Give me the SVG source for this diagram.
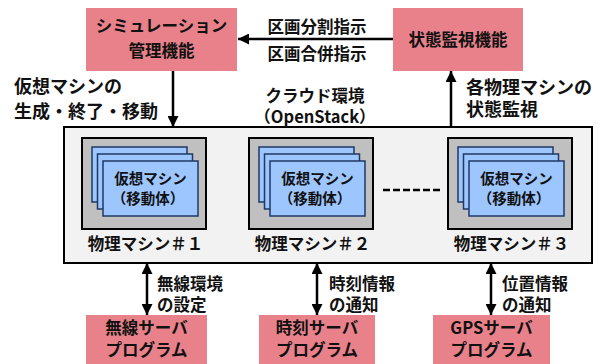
<svg xmlns="http://www.w3.org/2000/svg" width="610" height="364" viewBox="0 0 610 364">
<defs>
<style>
text{font-family:"Noto Sans CJK JP","Noto Sans",sans-serif;font-weight:bold;fill:#111;dominant-baseline:central}
.c{text-anchor:middle}
.t17{font-size:16.5px}
.t18{font-size:18px}
.t15{font-size:14.5px}
.pink{fill:#E8818A;stroke:none}
.pm{fill:#C0C0C0;stroke:#000;stroke-width:2}
.vm{fill:#9DC6FF;stroke:#1F3864;stroke-width:1.5}
.ln{stroke:#000;stroke-width:2.5;fill:none}
</style>
<marker id="ah" viewBox="0 0 10 10" refX="10" refY="5" markerWidth="11" markerHeight="11" markerUnits="userSpaceOnUse" orient="auto-start-reverse">
<path d="M0,0 L10,5 L0,10 Z" fill="#000"/>
</marker>
</defs>
<rect width="610" height="364" fill="#fff"/>

<g id="cloud">
<rect x="64" y="127" width="528" height="136" fill="#F2F2F2" stroke="#000" stroke-width="2"/>
<text class="c t17"><tspan x="315" y="95">クラウド環境</tspan><tspan x="315" y="116">（OpenStack）</tspan></text>
</g>

<g id="sim">
<rect class="pink" x="86" y="8" width="151" height="63"/>
<text class="c t17"><tspan x="161.5" y="25">シミュレーション</tspan><tspan x="161.5" y="50">管理機能</tspan></text>
</g>

<g id="monitor">
<rect class="pink" x="393" y="8" width="130" height="63"/>
<text class="c t17" x="458" y="39">状態監視機能</text>
</g>

<g id="pm1">
<rect class="pm" x="82" y="138" width="124" height="91"/>
<rect class="vm" x="92" y="147" width="95" height="55"/>
<rect class="vm" x="97.5" y="154" width="95" height="55"/>
<rect class="vm" x="103" y="161" width="95" height="55"/>
<text class="c t15"><tspan x="150.5" y="177">仮想マシン</tspan><tspan x="148" y="197">（移動体）</tspan></text>
<text class="c t17" x="145.5" y="243">物理マシン＃１</text>
</g>

<g id="pm2">
<rect class="pm" x="249" y="138" width="124" height="91"/>
<rect class="vm" x="259" y="147" width="95" height="55"/>
<rect class="vm" x="264.5" y="154" width="95" height="55"/>
<rect class="vm" x="270" y="161" width="95" height="55"/>
<text class="c t15"><tspan x="317.5" y="177">仮想マシン</tspan><tspan x="315" y="197">（移動体）</tspan></text>
<text class="c t17" x="312.5" y="243">物理マシン＃２</text>
</g>

<g id="pm3">
<rect class="pm" x="448" y="138" width="124" height="91"/>
<rect class="vm" x="458" y="147" width="95" height="55"/>
<rect class="vm" x="463.5" y="154" width="95" height="55"/>
<rect class="vm" x="469" y="161" width="95" height="55"/>
<text class="c t15"><tspan x="516.5" y="177">仮想マシン</tspan><tspan x="514" y="197">（移動体）</tspan></text>
<text class="c t17" x="511.5" y="243">物理マシン＃３</text>
</g>

<g id="wireless">
<rect class="pink" x="86" y="315" width="121" height="49"/>
<text class="c t17"><tspan x="146.5" y="327">無線サーバ</tspan><tspan x="146.5" y="349">プログラム</tspan></text>
</g>

<g id="time">
<rect class="pink" x="259" y="315" width="116" height="49"/>
<text class="c t17"><tspan x="317" y="327">時刻サーバ</tspan><tspan x="317" y="349">プログラム</tspan></text>
</g>

<g id="gps">
<rect class="pink" x="433" y="315" width="117" height="49"/>
<text class="c t17"><tspan x="491.5" y="327">GPSサーバ</tspan><tspan x="491.5" y="349">プログラム</tspan></text>
</g>

<g id="connectors">
<line class="ln" x1="393" y1="39" x2="238" y2="39" marker-end="url(#ah)"/>
<text class="c t17" x="317" y="26">区画分割指示</text>
<text class="c t17" x="317" y="53">区画合併指示</text>

<line class="ln" x1="173" y1="71" x2="173" y2="127" marker-end="url(#ah)"/>
<text class="t18"><tspan x="14" y="85">仮想マシンの</tspan><tspan x="14" y="110">生成・終了・移動</tspan></text>

<line class="ln" x1="451" y1="127" x2="451" y2="71" marker-end="url(#ah)"/>
<text class="t18"><tspan x="466" y="86">各物理マシンの</tspan><tspan x="466" y="108">状態監視</tspan></text>

<line x1="383" y1="190" x2="441" y2="190" stroke="#000" stroke-width="2.5" stroke-dasharray="7,3"/>

<line class="ln" x1="147" y1="263" x2="147" y2="315" marker-start="url(#ah)" marker-end="url(#ah)"/>
<text class="t17"><tspan x="157" y="283">無線環境</tspan><tspan x="157" y="304">の設定</tspan></text>

<line class="ln" x1="317" y1="263" x2="317" y2="315" marker-start="url(#ah)" marker-end="url(#ah)"/>
<text class="t17"><tspan x="329" y="283">時刻情報</tspan><tspan x="329" y="304">の通知</tspan></text>

<line class="ln" x1="491" y1="263" x2="491" y2="315" marker-start="url(#ah)" marker-end="url(#ah)"/>
<text class="t17"><tspan x="502" y="283">位置情報</tspan><tspan x="502" y="304">の通知</tspan></text>
</g>
</svg>
